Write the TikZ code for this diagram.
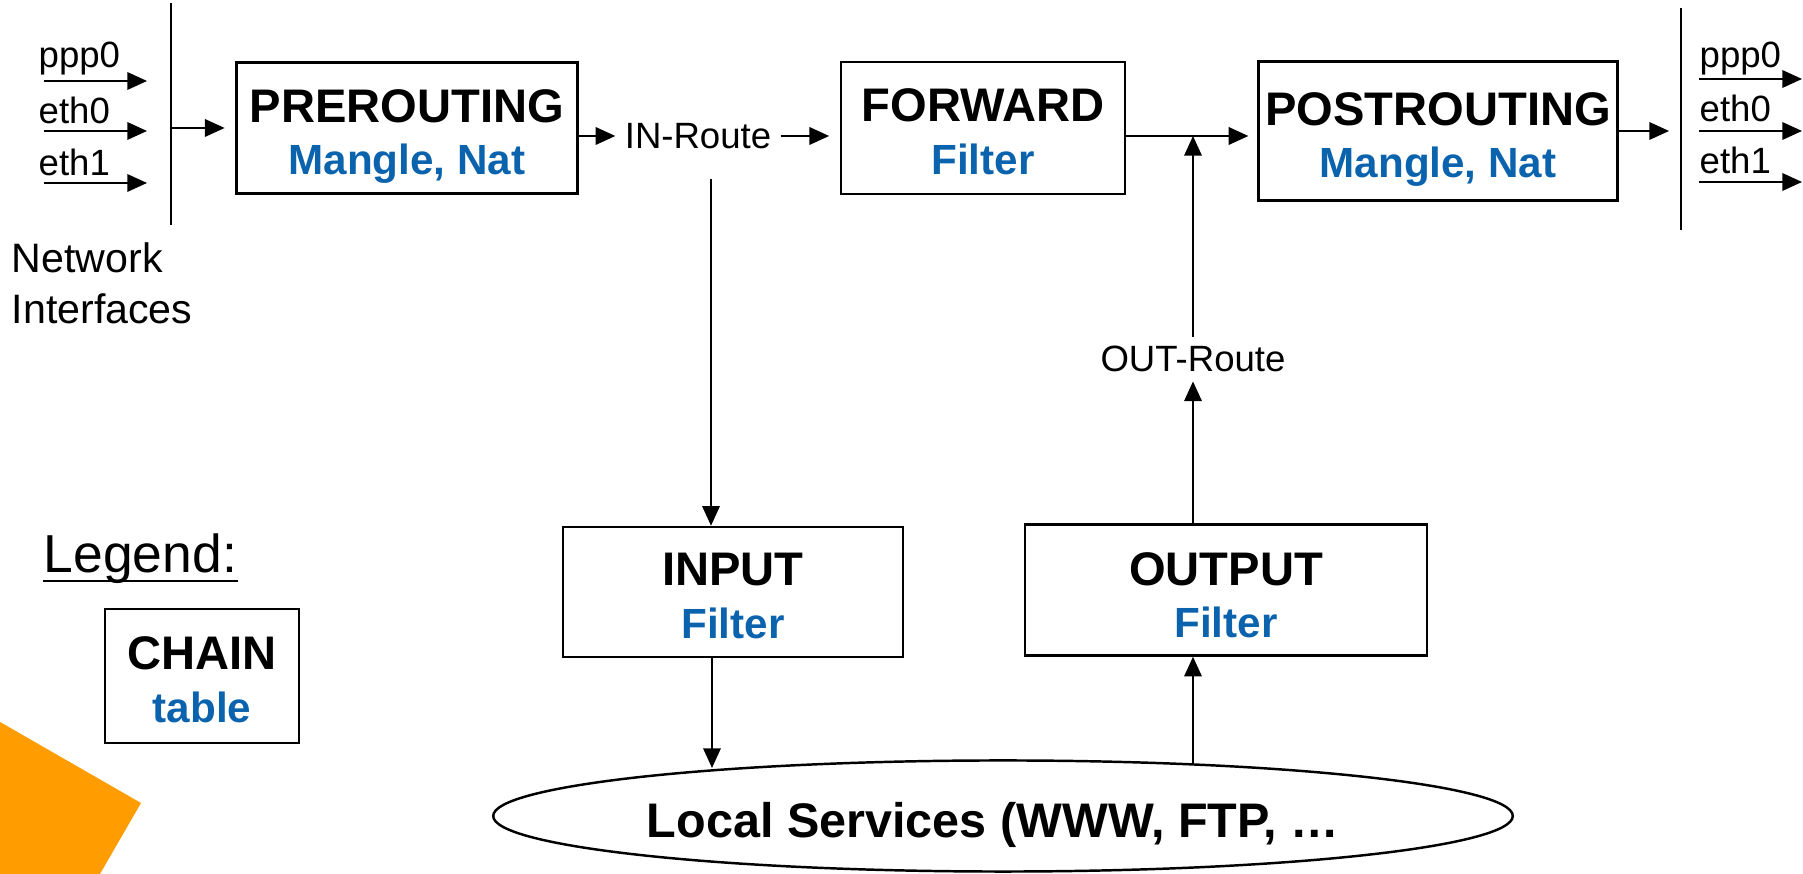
\documentclass[tikz,border=0pt]{standalone}
\usepackage{fontspec}
\setmainfont{Liberation Sans}
\usetikzlibrary{arrows.meta, positioning, shapes.geometric}
\definecolor{tblblue}{HTML}{0B63AE}
\definecolor{cornerA}{HTML}{FF9D00}
\newcommand{\tbl}[1]{{\fontsize{12}{14.8}\selectfont\color{tblblue}#1}}

\begin{document}
\begin{tikzpicture}[
  x=0.01cm, y=-0.01cm,
  every node/.style={font=\fontsize{10.4}{12.5}\selectfont},
  chainbox/.style={draw, line width=0.7pt, align=center, inner sep=0pt,
                   text height=1.12cm, text depth=0.19cm,
                   font=\fontsize{13.4}{14.8}\selectfont\bfseries},
  iflabel/.style={anchor=base west, inner sep=0pt},
  arr/.style={-{Triangle[length=5.6pt,width=5pt]}, line width=0.45pt},
  bar/.style={line width=0.55pt}
]
\useasboundingbox (0,0) rectangle (1803,874);

% orange corner
\fill[cornerA] (0,722) -- (141,803) -- (100,874) -- (0,874) -- cycle;

% chains
\node[chainbox, minimum width=3.41cm] (pre) at (407,128) {PREROUTING\\\tbl{Mangle, Nat}};
\node[chainbox, minimum width=2.84cm, text depth=0.20cm] (fwd) at (983,128) {FORWARD\\\tbl{Filter}};
\node[chainbox, minimum width=3.59cm, text height=1.16cm, text depth=0.23cm] (post) at (1438,131) {POSTROUTING\\\tbl{Mangle, Nat}};
\node[chainbox, minimum width=3.40cm, text height=1.11cm] (inp) at (733,592) {INPUT\\\tbl{Filter}};
\node[chainbox, minimum width=4.02cm, text height=1.13cm, text depth=0.18cm] (outp) at (1226,590) {OUTPUT\\\tbl{Filter}};

\node[draw, ellipse, line width=0.7pt, inner sep=0pt,
      minimum width=10.19cm, minimum height=1.11cm,
      text height=0.45cm, text depth=0.03cm,
      font=\fontsize{13.8}{16}\selectfont\bfseries] (svc) at (1003,816) {Local Services (WWW, FTP, …\kern0.2cm};

% routing decisions
\node[inner sep=2.5pt] (inroute) at (698,136) {IN-Route};
\node[inner sep=2.5pt] (outroute) at (1193,359) {OUT-Route};

% network interfaces, in
\coordinate (lbar top) at (171,3);
\coordinate (lbar bot) at (171,225);
\draw[bar] (lbar top) -- (lbar bot);
\node[iflabel] (lppp0) at (38,68) {ppp0};
\node[iflabel] (leth0) at (38,124) {eth0};
\node[iflabel] (leth1) at (38,176) {eth1};
\coordinate (ppp0 a) at (44,81);  \coordinate (ppp0 b) at (147,81);
\coordinate (eth0 a) at (44,131); \coordinate (eth0 b) at (147,131);
\coordinate (eth1 a) at (44,183); \coordinate (eth1 b) at (147,183);
\draw[arr] (ppp0 a) -- (ppp0 b);
\draw[arr] (eth0 a) -- (eth0 b);
\draw[arr] (eth1 a) -- (eth1 b);
\node[anchor=north west, inner sep=0pt, align=left,
      font=\fontsize{11.7}{14.6}\selectfont] (netif) at (11,242) {Network\\Interfaces};

% network interfaces, out
\coordinate (rbar top) at (1681,8);
\coordinate (rbar bot) at (1681,230);
\draw[bar] (rbar top) -- (rbar bot);
\node[iflabel] (rppp0) at (1699,68) {ppp0};
\node[iflabel] (reth0) at (1699,122) {eth0};
\node[iflabel] (reth1) at (1699,174) {eth1};
\coordinate (oppp0 a) at (1699,79);  \coordinate (oppp0 b) at (1802,79);
\coordinate (oeth0 a) at (1699,131); \coordinate (oeth0 b) at (1802,131);
\coordinate (oeth1 a) at (1699,182); \coordinate (oeth1 b) at (1802,182);
\draw[arr] (oppp0 a) -- (oppp0 b);
\draw[arr] (oeth0 a) -- (oeth0 b);
\draw[arr] (oeth1 a) -- (oeth1 b);

% flow
\draw[arr, shorten >=3pt] (pre.west -| lbar top) -- (pre.west);
\draw[arr] (pre.east |- inroute) -- (inroute.west);
\draw[arr, shorten >=3pt] (inroute.east) -- (fwd.west |- inroute);
\draw[arr, shorten >=2.5pt] (fwd.east |- inroute) -- (post.west |- inroute);
\draw[arr, shorten >=3.4pt] (post.east) -- (post.east -| rbar top);
\draw[arr, shorten <=6pt] ([xshift=0.13cm]inroute.south) -- ([xshift=0.13cm]inroute.south |- inp.north);
\draw[arr] (outroute.north) -- (outroute.north |- inroute);
\draw[arr] (outp.north -| outroute) -- (outroute.south);
\draw[arr] ([xshift=-0.21cm]inp.south) -- ([xshift=-0.21cm]inp.south |- svc.170.8);
\draw[arr] (svc.15.4 -| outroute) -- (outp.south -| outroute);

% legend
\node[anchor=base west, inner sep=0pt, font=\fontsize{15.2}{18}\selectfont] (legend) at (43,573) {Legend:};
\draw[line width=0.85pt] ([yshift=-0.08cm]legend.base west) -- ([yshift=-0.08cm]legend.base east);
\node[chainbox, minimum width=1.94cm, text height=1.13cm, text depth=0.21cm] (legbox) at (202,676) {CHAIN\\\tbl{table}};

\end{tikzpicture}
\end{document}
